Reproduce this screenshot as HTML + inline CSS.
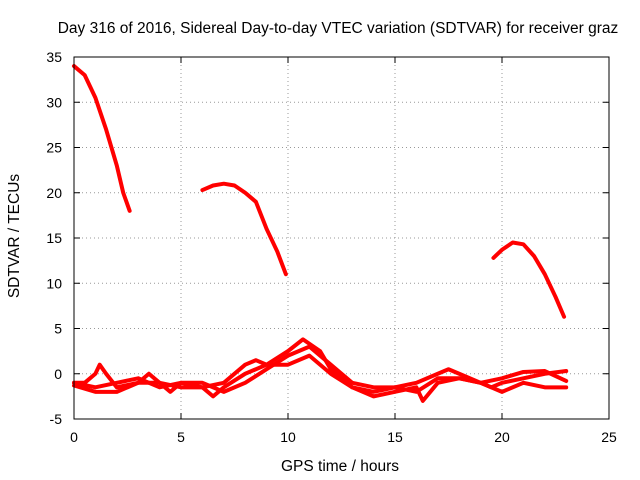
<!DOCTYPE html>
<html><head><meta charset="utf-8"><style>
body{margin:0;background:#fff}
svg{display:block;font-family:"Liberation Sans",sans-serif;font-size:14px}
.big{font-size:15.5px}
</style></head><body>
<svg id="c" width="640" height="480">
<text class="big" x="338" y="33" text-anchor="middle" fill="#000">Day 316 of 2016, Sidereal Day-to-day VTEC variation (SDTVAR) for receiver graz</text>
<text class="big" x="340" y="471" text-anchor="middle">GPS time / hours</text>
<text class="big" transform="translate(19,236) rotate(-90)" text-anchor="middle">SDTVAR / TECUs</text>
<g id="grid"></g><g id="ticks"></g><g id="marks"></g>
<rect x="74" y="57" width="535" height="362" fill="none" stroke="#000"/>
</svg>
<script>
const xTicks=[0,5,10,15,20,25];
const yTicks=[-5,0,5,10,15,20,25,30,35];
const s1x=[0,0.5,1,1.5,2,2.3,2.6];
const s1y=[34,33,30.5,27,23,20,18];
const s2x=[6,6.5,7,7.5,8,8.5,9,9.5,9.9];
const s2y=[20.3,20.8,21,20.8,20,19,16,13.5,11];
const s3x=[19.6,20,20.5,21,21.5,22,22.5,22.9];
const s3y=[12.8,13.7,14.5,14.3,13,11,8.5,6.3];
const aX=[0,0.5,1,1.2,1.5,2,3,3.5,4,4.5,5,6,6.5,7,8,9,10,10.7,11.5,12,13,14,15,16,17,17.5,18,19,19.5,20,21,22,23];
const aY=[-1,-1,0,1,0,-1.5,-1,0,-1,-2,-1,-1.5,-2.5,-1.5,0,1,2.5,3.8,2.5,0.5,-1.5,-2,-1.5,-1,0,0.5,0,-1,-1.5,-1,-0.5,0,0.3];
const bX=[0,1,2,3,4,5,6,7,8,8.5,9,10,11,12,13,14,15,16,16.3,17,18,19,20,21,22,23];
const bY=[-1.3,-2,-2,-1,-1,-1.5,-1.5,-1,1,1.5,1,1,2,0,-1.5,-2.5,-2,-1.5,-3,-1,-0.5,-1,-2,-1,-1.5,-1.5];
const cX=[0,1,2,3,4,5,6,7,8,9,10,11,12,13,14,15,16,17,18,19,20,21,22,23];
const cY=[-1,-1.5,-1,-0.5,-1.5,-1,-1,-2,-1,0.5,2,3,1,-1,-1.5,-1.5,-2,-0.5,-0.5,-1,-0.5,0.2,0.3,-0.8];
const X=v=>74+v*535/25, Y=v=>419-(v+5)*362/40;
const ns="http://www.w3.org/2000/svg";
const g=document.getElementById('grid'),t=document.getElementById('ticks'),m=document.getElementById('marks');
function mk(p,tag,a){const e=document.createElementNS(ns,tag);for(const k in a)e.setAttribute(k,a[k]);p.appendChild(e);return e;}
xTicks.forEach(v=>{
 const l=mk(g,'line',{x1:X(v),x2:X(v),y1:57,y2:419,stroke:'#999','stroke-dasharray':'1,3'});
 
 
 mk(g,'path',{d:`M${X(v)},419v-6M${X(v)},57v6`,stroke:'#000'});
 const s=mk(t,'text',{x:X(v),y:442,'text-anchor':'middle'});s.textContent=v;
 
 
});
yTicks.forEach(v=>{
 const l=mk(g,'line',{x1:74,x2:609,y1:Y(v),y2:Y(v),stroke:'#999','stroke-dasharray':'1,3'});
 
 
 mk(g,'path',{d:`M74,${Y(v)}h6M609,${Y(v)}h-6`,stroke:'#000'});
 const s=mk(t,'text',{x:62,y:Y(v)+5,'text-anchor':'end'});s.textContent=v;
 
 
});
[[s1x,s1y,'series-early'],[s2x,s2y,'series-mid'],[s3x,s3y,'series-late'],[aX,aY,'series-band-a'],[bX,bY,'series-band-b'],[cX,cY,'series-band-c']].forEach(([xs,ys,n])=>{
 const p=mk(m,'polyline',{points:xs.map((x,i)=>X(x)+','+Y(ys[i])).join(' '),fill:'none',stroke:'#f00','stroke-width':4,'stroke-linejoin':'round','stroke-linecap':'round'});
 
 
});
</script>
</body></html>
